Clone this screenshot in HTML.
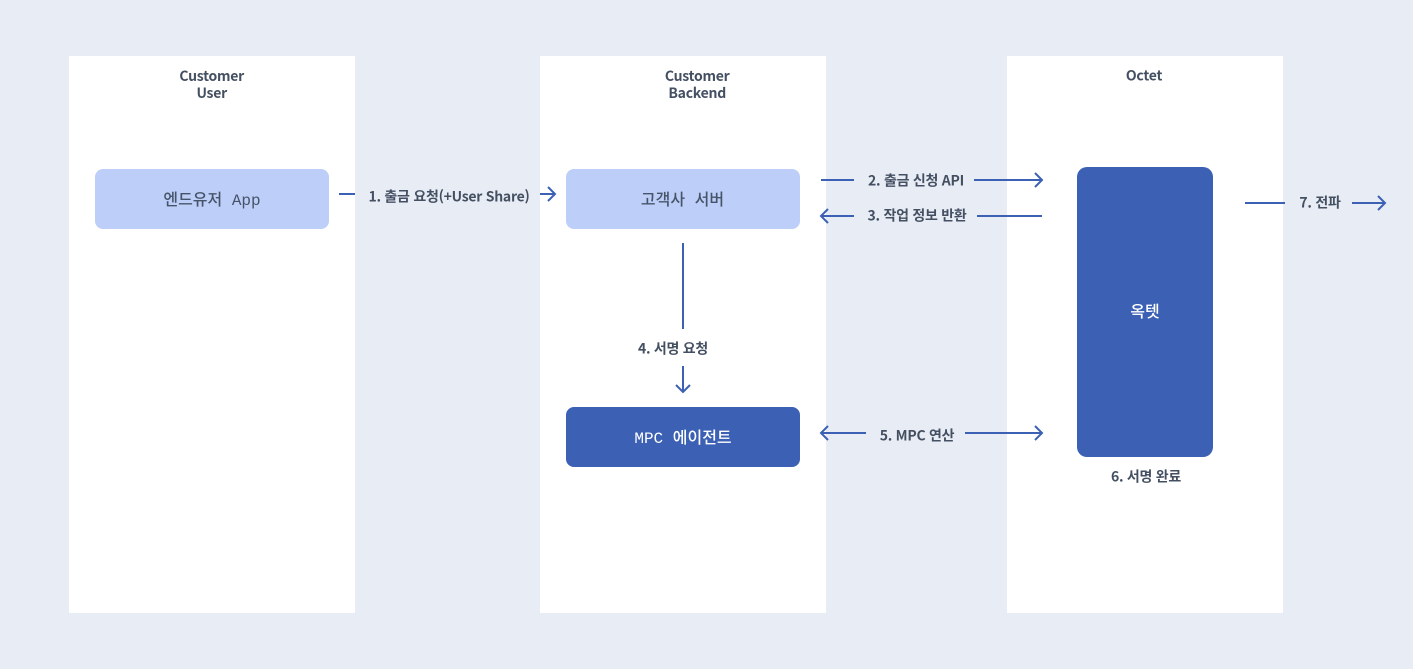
<!DOCTYPE html>
<html lang="ko">
<head>
<meta charset="utf-8">
<style>
html,body{margin:0;padding:0;width:1413px;height:669px;overflow:hidden;background:#e8edf5}
body{position:relative;font-family:"Noto Sans CJK KR","Liberation Sans",sans-serif;color:#3f4b5c}
.col{position:absolute;top:56px;height:557px;background:#fff}
.t{position:absolute;white-space:nowrap;transform:translate(-50%,-50%);font-size:14px;font-weight:700;line-height:17px;text-align:center;letter-spacing:-.26px;color:#445062}
.box{position:absolute;border-radius:8px}
.lt{background:#bdcff8}
.dk{background:#3c60b3}
.n{position:absolute;white-space:nowrap;transform:translate(-50%,-50%);font-size:16px;font-weight:500;line-height:20px;font-family:"Liberation Mono","Noto Sans CJK KR",monospace}
svg{position:absolute;left:0;top:0}
</style>
</head>
<body>
<div class="col" style="left:69px;width:286px"></div>
<div class="col" style="left:540px;width:286px"></div>
<div class="col" style="left:1007px;width:276px"></div>

<div class="t" style="left:211.7px;top:85px">Customer<br>User</div>
<div class="t" style="left:697.2px;top:85px">Customer<br>Backend</div>
<div class="t" style="left:1144px;top:76px">Octet</div>

<div class="box lt" style="left:95px;top:169px;width:234px;height:60px"></div>
<div class="box lt" style="left:566px;top:169px;width:234px;height:60px"></div>
<div class="box dk" style="left:566px;top:407px;width:234px;height:60px"></div>
<div class="box dk" style="left:1077px;top:167px;width:136px;height:290px;border-radius:10px"></div>

<div class="n" style="left:212px;top:201px;color:#46546a">엔드유저 App</div>
<div class="n" style="left:682.5px;top:201px;color:#46546a">고객사 서버</div>
<div class="n" style="left:683px;top:439px;color:#fff">MPC 에이전트</div>
<div class="n" style="left:1145px;top:313px;color:#fff">옥텟</div>

<svg width="1413" height="669" viewBox="0 0 1413 669" fill="none" stroke="#3c60b3" stroke-width="2">
<path d="M339 194H355"/>
<path d="M540 194H555M548 187L555 194L548 201"/>
<path d="M821 180H854"/>
<path d="M974 180H1042M1035 173L1042 180L1035 187"/>
<path d="M854 216H821M828 209L821 216L828 223"/>
<path d="M977 216H1042"/>
<path d="M1245 203H1285"/>
<path d="M1352 203H1385M1378 196L1385 203L1378 210"/>
<path d="M683 243V329"/>
<path d="M683 366V392M676 385L683 392L690 385"/>
<path d="M866 433H821M828 426L821 433L828 440"/>
<path d="M965 433H1042M1035 426L1042 433L1035 440"/>
</svg>

<div class="t" style="left:449px;top:197px">1. 출금 요청(+User Share)</div>
<div class="t" style="left:916px;top:181px">2. 출금 신청 API</div>
<div class="t" style="left:917px;top:216px">3. 작업 정보 반환</div>
<div class="t" style="left:1320px;top:203px">7. 전파</div>
<div class="t" style="left:673px;top:349px">4. 서명 요청</div>
<div class="t" style="left:917px;top:436px">5. MPC 연산</div>
<div class="t" style="left:1146px;top:477px">6. 서명 완료</div>
</body>
</html>
